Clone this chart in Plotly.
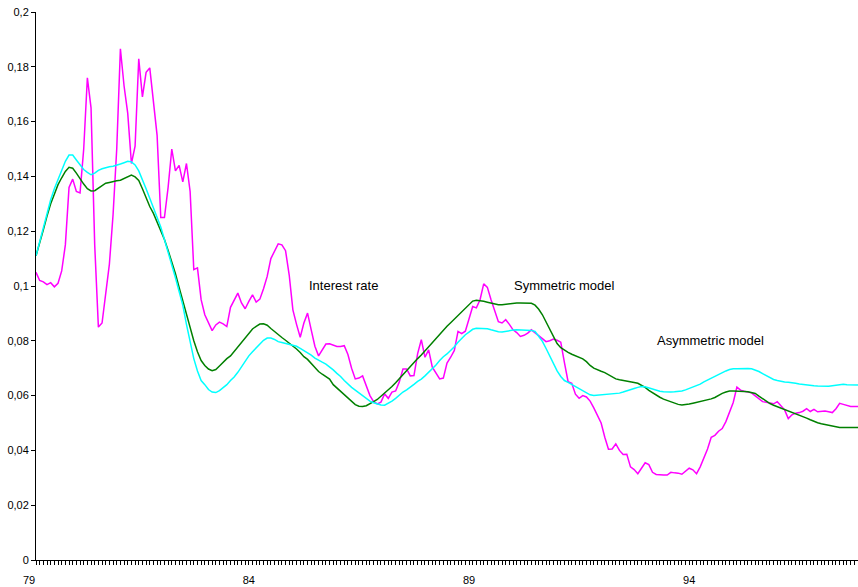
import plotly.graph_objects as go

# Monthly series, March 1979 (month index 2) to November 1997 (month index 226)
START_MONTH = 2

interest_rate = [
    0.105, 0.102, 0.1015, 0.1005, 0.1012, 0.0997, 0.101, 0.1055, 0.115, 0.136,
    0.139, 0.1345, 0.134, 0.150, 0.176, 0.165, 0.115, 0.085, 0.0865, 0.097,
    0.108, 0.126, 0.150, 0.1866, 0.173, 0.163, 0.1447, 0.151, 0.1829, 0.169,
    0.178, 0.1796, 0.168, 0.155, 0.125, 0.125, 0.136, 0.150, 0.142, 0.144,
    0.138, 0.1447, 0.1345, 0.106, 0.1066, 0.095, 0.0895, 0.0865, 0.0837, 0.0858,
    0.0868, 0.0862, 0.0852, 0.0922, 0.095, 0.0974, 0.0938, 0.0917, 0.0944, 0.0968,
    0.0941, 0.0952, 0.099, 0.1035, 0.110, 0.113, 0.1154, 0.115, 0.1129, 0.104,
    0.0913, 0.086, 0.0813, 0.0865, 0.0901, 0.084, 0.078, 0.0745, 0.0765, 0.0788,
    0.0789, 0.0785, 0.0779, 0.0779, 0.0782, 0.075, 0.070, 0.0661, 0.0664, 0.0672,
    0.0633, 0.060, 0.0578, 0.057, 0.0576, 0.0606, 0.059, 0.0613, 0.0617, 0.065,
    0.0697, 0.0697, 0.0672, 0.0673, 0.0753, 0.0804, 0.074, 0.0767, 0.0704, 0.068,
    0.0661, 0.0664, 0.0719, 0.074, 0.0765, 0.0834, 0.0826, 0.0835, 0.088, 0.0925,
    0.092, 0.095, 0.1008, 0.0995, 0.095, 0.091, 0.087, 0.0865, 0.0877, 0.086,
    0.084, 0.083, 0.0816, 0.082, 0.0828, 0.084, 0.083, 0.0818, 0.081, 0.0797,
    0.080, 0.0806, 0.0802, 0.0795, 0.072, 0.0651, 0.0645, 0.0605, 0.059, 0.060,
    0.0595, 0.058, 0.0555, 0.053, 0.050, 0.0448, 0.0404, 0.0405, 0.0424, 0.040,
    0.0385, 0.0386, 0.034, 0.033, 0.0315, 0.0335, 0.0355, 0.0348, 0.032, 0.0312,
    0.031, 0.031, 0.031, 0.032, 0.0318, 0.0317, 0.0313, 0.0325, 0.0335, 0.0329,
    0.0315, 0.034, 0.037, 0.0405, 0.0448, 0.0455, 0.047, 0.048, 0.0505, 0.054,
    0.0575, 0.0631, 0.062, 0.0616, 0.0614, 0.061, 0.0599, 0.0588, 0.0578, 0.0576,
    0.0573, 0.057, 0.0578, 0.0562, 0.0548, 0.0516, 0.053, 0.0536, 0.0538, 0.0543,
    0.0552, 0.0542, 0.055, 0.0541, 0.0542, 0.0544, 0.0541, 0.0538, 0.0552, 0.0572,
    0.0568, 0.0563, 0.056, 0.056, 0.056,
]

symmetric_model = [
    0.111, 0.1155, 0.1205, 0.1255, 0.130, 0.1335, 0.137, 0.1395, 0.1418, 0.1433,
    0.143, 0.1412, 0.139, 0.1372, 0.1355, 0.1347, 0.1348, 0.1357, 0.1368, 0.1375,
    0.1378, 0.1382, 0.1384, 0.1386, 0.1392, 0.140, 0.1405, 0.1398, 0.1385, 0.1355,
    0.132, 0.129, 0.1265, 0.1235, 0.1205, 0.117, 0.113, 0.109, 0.1045, 0.0995,
    0.0945, 0.0898, 0.085, 0.080, 0.076, 0.0728, 0.071, 0.0697, 0.0691, 0.0695,
    0.0708, 0.0722, 0.0735, 0.0745, 0.0762, 0.0778, 0.0795, 0.0812, 0.0828, 0.0843,
    0.0853, 0.0861, 0.0862, 0.0857, 0.0845, 0.0833, 0.0822, 0.0812, 0.0802, 0.0792,
    0.078, 0.077, 0.0757, 0.0742, 0.0732, 0.0718, 0.0703, 0.0688, 0.0678, 0.0668,
    0.066, 0.064, 0.0628, 0.0617, 0.0605, 0.059, 0.0578, 0.0567, 0.0561, 0.056,
    0.0563, 0.0569, 0.0578, 0.0586, 0.0597, 0.0609, 0.062, 0.0633, 0.0647, 0.0662,
    0.0678, 0.0692, 0.0707, 0.072, 0.0735, 0.0748, 0.0763, 0.0778, 0.0795, 0.0812,
    0.0826, 0.084, 0.0853, 0.0866, 0.0879, 0.0893, 0.0907, 0.092, 0.0933, 0.0945,
    0.0948, 0.0947, 0.0944, 0.0941, 0.0938, 0.0935, 0.0932, 0.0932, 0.0934, 0.0936,
    0.0937, 0.0938, 0.0938, 0.0938, 0.0938, 0.0937, 0.093, 0.0915, 0.0895, 0.087,
    0.0843, 0.0815, 0.079, 0.0775, 0.0765, 0.0758, 0.0751, 0.0745, 0.074, 0.0734,
    0.0724, 0.071, 0.070, 0.0693, 0.0689, 0.0684, 0.0677, 0.0668, 0.0661, 0.0658,
    0.0656, 0.0654, 0.0651, 0.0648, 0.0645, 0.0638, 0.063, 0.0619, 0.061, 0.0601,
    0.0594, 0.0587, 0.0582, 0.0577, 0.0572, 0.0568, 0.0566, 0.0567, 0.0569, 0.0572,
    0.0575, 0.0578, 0.0582, 0.0586, 0.0588, 0.0593, 0.0601, 0.0608, 0.0613, 0.0617,
    0.0617, 0.0617, 0.0616, 0.0615, 0.0614, 0.0612, 0.0608, 0.0598, 0.0588, 0.0578,
    0.0571, 0.0565, 0.056, 0.0554, 0.0549, 0.0545, 0.054, 0.0535, 0.053, 0.0524,
    0.0518, 0.0512, 0.0506, 0.0501, 0.0497, 0.0494, 0.0492, 0.0488, 0.0485, 0.0484,
    0.0484, 0.0484, 0.0484, 0.0484, 0.0484,
]

asymmetric_model = [
    0.111, 0.116, 0.1215, 0.127, 0.1315, 0.1355, 0.139, 0.1425, 0.1455, 0.1478,
    0.1478, 0.146, 0.1442, 0.1425, 0.1415, 0.1406, 0.1412, 0.1422, 0.1428, 0.1432,
    0.1435, 0.1437, 0.144, 0.1445, 0.145, 0.1455, 0.1453, 0.1442, 0.142, 0.139,
    0.1355, 0.132, 0.1285, 0.125, 0.1215, 0.117, 0.1125, 0.108, 0.103, 0.098,
    0.093, 0.086, 0.0795, 0.0735, 0.069, 0.0655, 0.064, 0.0622, 0.0613, 0.0611,
    0.0618, 0.0628, 0.064, 0.0655, 0.0668, 0.0685, 0.0705, 0.0725, 0.0745, 0.076,
    0.0775, 0.079, 0.0802, 0.081, 0.081, 0.0805, 0.0797, 0.0794, 0.0791, 0.0788,
    0.0785, 0.078, 0.0772, 0.0765, 0.0757, 0.0748, 0.0737, 0.0728, 0.0722, 0.0715,
    0.0706, 0.0694, 0.0681, 0.067, 0.0655, 0.0642, 0.063, 0.062, 0.061, 0.0598,
    0.0591, 0.058, 0.0574, 0.057, 0.0566, 0.0565, 0.0572, 0.058, 0.059, 0.0603,
    0.0613, 0.0621, 0.063, 0.0641, 0.0652, 0.066, 0.0672, 0.0685, 0.0698, 0.0712,
    0.0728, 0.0742, 0.0752, 0.0764, 0.0778, 0.0795, 0.081, 0.0822, 0.0832, 0.0842,
    0.0846, 0.0846, 0.0846, 0.0844, 0.084, 0.0836, 0.0833, 0.0832, 0.0835, 0.0838,
    0.0839, 0.084, 0.084, 0.084, 0.084, 0.0838, 0.0834, 0.0818, 0.0798, 0.0772,
    0.0745, 0.0718, 0.069, 0.067, 0.0655, 0.0648, 0.064, 0.0632, 0.0626, 0.0618,
    0.061, 0.0603, 0.060, 0.0601, 0.0603, 0.0604, 0.0605, 0.0606, 0.0608, 0.0609,
    0.0613, 0.0618, 0.0623, 0.0626, 0.063, 0.0633, 0.0632, 0.0628, 0.0623, 0.0619,
    0.0616, 0.0614, 0.0613, 0.0613, 0.0614, 0.0615, 0.0617, 0.0621, 0.0626, 0.063,
    0.0635, 0.0642, 0.065, 0.0657, 0.0663, 0.0668, 0.0675, 0.0683, 0.069, 0.0695,
    0.0698, 0.0698, 0.0699, 0.0698, 0.0699, 0.0698, 0.0694, 0.0688, 0.068, 0.0672,
    0.0665, 0.0659, 0.0655, 0.0652, 0.065, 0.0649, 0.0648, 0.0645, 0.0642, 0.064,
    0.0639, 0.0637, 0.0636, 0.0635, 0.0634, 0.0633, 0.0634, 0.0636, 0.0638, 0.064,
    0.0641, 0.064, 0.0639, 0.0639, 0.0639,
]

x_tick_years = [84, 89, 94]
x_tick_labels = ["84", "89", "94"]
y_tick_values = [0, 0.02, 0.04, 0.06, 0.08, 0.1, 0.12, 0.14, 0.16, 0.18, 0.2]
y_tick_labels = ["0", "0,02", "0,04", "0,06", "0,08", "0,1", "0,12", "0,14",
                 "0,16", "0,18", "0,2"]


def years(series):
    return [79 + (START_MONTH + i) / 12 for i in range(len(series))]


FONT = "Arial, Liberation Sans, sans-serif"
x_first = 79 + START_MONTH / 12
x_last = 79 + (START_MONTH + len(interest_rate) - 1) / 12

fig = go.Figure()
fig.add_trace(go.Scatter(x=years(interest_rate), y=interest_rate, mode="lines",
                         name="Interest rate", line=dict(color="#FF00FF", width=1.5)))
fig.add_trace(go.Scatter(x=years(symmetric_model), y=symmetric_model, mode="lines",
                         name="Symmetric model", line=dict(color="#008000", width=1.5)))
fig.add_trace(go.Scatter(x=years(asymmetric_model), y=asymmetric_model, mode="lines",
                         name="Asymmetric model", line=dict(color="#00FFFF", width=1.5)))

for text, xv, yv in [("Interest rate", 86.16, 0.1001),
                     ("Symmetric model", 91.16, 0.1001),
                     ("Asymmetric model", 94.48, 0.080)]:
    fig.add_annotation(x=xv, y=yv, text=text, showarrow=False,
                       font=dict(family=FONT, size=13, color="black"))

# first year label sits just left of the y axis
fig.add_annotation(xref="paper", yref="paper", x=-7 / 822, y=0, yshift=-20,
                   text="79", showarrow=False, xanchor="center", yanchor="middle",
                   font=dict(family=FONT, size=11, color="black"))

fig.update_layout(
    width=858, height=587,
    margin=dict(l=36, r=0, t=12, b=27),
    plot_bgcolor="white", paper_bgcolor="white",
    showlegend=False,
    font=dict(family=FONT, size=11, color="black"),
    xaxis=dict(
        range=[x_first, x_last],
        tickmode="array", tickvals=x_tick_years, ticktext=x_tick_labels,
        ticks="outside", ticklen=4, tickcolor="black", tickwidth=1,
        ticklabelstandoff=6,
        minor=dict(ticks="outside", ticklen=4, tickcolor="black", tickwidth=1,
                   tickmode="linear", tick0=79, dtick=1 / 12, showgrid=False),
        showline=True, linecolor="black", linewidth=1,
        showgrid=False, zeroline=False,
    ),
    yaxis=dict(
        range=[0, 0.2],
        tickmode="array", tickvals=y_tick_values, ticktext=y_tick_labels,
        ticks="outside", ticklen=4, tickcolor="black", tickwidth=1,
        showline=True, linecolor="black", linewidth=1,
        showgrid=False, zeroline=False,
    ),
)

fig.write_html("out.html")
